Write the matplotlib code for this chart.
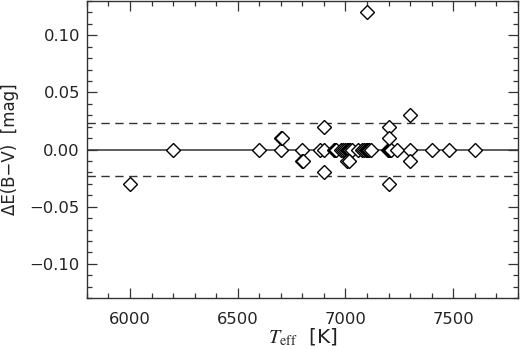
import matplotlib
matplotlib.use("Agg")
import matplotlib.pyplot as plt
from matplotlib.ticker import MultipleLocator, FuncFormatter

plt.rcParams['font.family'] = ['DejaVu Sans']
plt.rcParams['mathtext.fontset'] = 'stix'

teff = [6000, 6200, 6600, 6700, 6700, 6705, 6800, 6800, 6805,
        6880, 6900, 6900, 6900, 6945, 6950, 6955,
        6980, 6990, 7000, 7005, 7010, 7015, 7020, 7030, 7005, 7015,
        7060, 7075, 7085, 7095, 7100, 7105, 7110, 7120, 7100,
        7195, 7200, 7205, 7210, 7200, 7200, 7200, 7240,
        7300, 7300, 7300, 7400, 7480, 7600]
dEBV = [-0.03, 0.0, 0.0, 0.0, 0.01, 0.01, 0.0, -0.01, -0.01,
        0.0, 0.0, 0.02, -0.02, 0.0, 0.0, 0.0,
        0.0, 0.0, 0.0, 0.0, 0.0, 0.0, 0.0, 0.0, -0.01, -0.01,
        0.0, 0.0, 0.0, 0.0, 0.0, 0.0, 0.0, 0.0, 0.12,
        0.0, 0.0, 0.0, 0.0, 0.02, 0.01, -0.03, 0.0,
        0.0, -0.01, 0.03, 0.0, 0.0, 0.0]
sigma = 0.023

fig = plt.figure(figsize=(5.2, 3.49), dpi=100)
ax = fig.add_axes([0.167, 0.146, 0.829, 0.851])

ax.axhline(0, color='#333333', lw=1.1, zorder=1)
ax.axhline(sigma, color='#333333', lw=1.0, ls=(0, (6, 4)), zorder=1)
ax.axhline(-sigma, color='#333333', lw=1.0, ls=(0, (6, 4)), zorder=1)

ax.plot(teff, dEBV, ls='none', marker='D', ms=7.3, mfc='white', mec='black',
        mew=1.0, zorder=3)

ax.set_xlim(5800, 7800)
ax.set_ylim(-0.13, 0.13)
ax.xaxis.set_major_locator(MultipleLocator(500))
ax.xaxis.set_minor_locator(MultipleLocator(100))
ax.yaxis.set_major_locator(MultipleLocator(0.05))
ax.yaxis.set_minor_locator(MultipleLocator(0.01))
ax.yaxis.set_major_formatter(FuncFormatter(
    lambda v, p: ('%.2f' % v).replace('-', '\u2212') if abs(v) > 1e-9 else '0.00'))
ax.tick_params(which='both', direction='in', top=True, right=True, labelsize=11.8,
               color='#333333', width=0.9, labelcolor='#222222')
ax.tick_params(which='major', length=7)
ax.tick_params(which='minor', length=3.5)
ax.tick_params(axis='x', which='major', pad=10)
ax.tick_params(axis='y', which='major', pad=5)
for s in ax.spines.values():
    s.set_color('#333333')
    s.set_linewidth(1.0)

ax.set_xlabel(r'$T_{\rm eff}$  [K]', fontsize=14.5, labelpad=0, color='#222222')
ax.set_ylabel('\u0394E(B\u2212V)  [mag]', fontsize=12, labelpad=8, color='#222222')

fig.savefig('out.png', dpi=100)
